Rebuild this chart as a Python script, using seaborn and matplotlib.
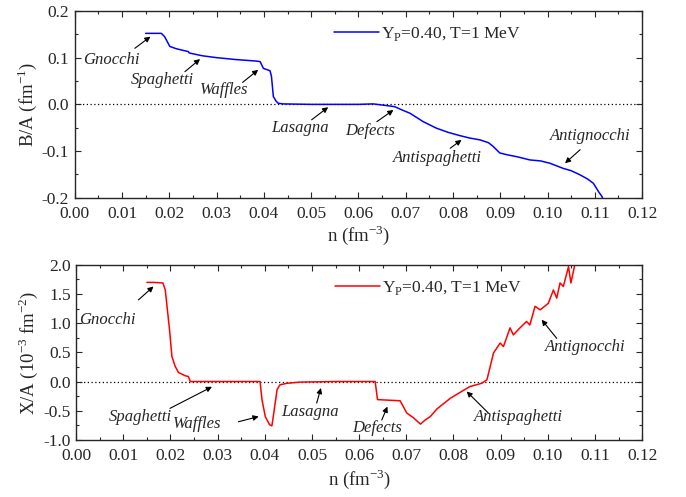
import numpy as np
import pandas as pd
import matplotlib
matplotlib.use("Agg")
import matplotlib.pyplot as plt
import seaborn as sns
from matplotlib.ticker import MultipleLocator

# B/A curve (top panel)
n_b = [0.0150, 0.0165, 0.0183, 0.0190, 0.0201, 0.0215, 0.0240, 0.0242, 0.0270, 0.0300, 0.0340,
       0.0380, 0.0392, 0.0399, 0.0413, 0.0416, 0.0420, 0.0425, 0.0430, 0.0440, 0.0500, 0.0600,
       0.0631, 0.0663, 0.0677, 0.0690, 0.0709, 0.0737, 0.0765, 0.0790, 0.0815, 0.0835, 0.0857,
       0.0875, 0.0885, 0.0899, 0.0915, 0.0935, 0.0963, 0.0985, 0.1005, 0.1033, 0.1050, 0.1069,
       0.1085, 0.1097, 0.1108, 0.1115, 0.1118]
b_a = [0.152, 0.152, 0.152, 0.145, 0.124, 0.119, 0.113, 0.110, 0.104, 0.100, 0.096,
       0.093, 0.0916, 0.077, 0.072, 0.060, 0.017, 0.008, 0.0025, 0.001, 0.000, 0.000,
       0.001, -0.003, -0.005, -0.011, -0.019, -0.037, -0.051, -0.060, -0.067, -0.072, -0.076,
       -0.082, -0.090, -0.104, -0.108, -0.112, -0.119, -0.121, -0.126, -0.137, -0.142, -0.151,
       -0.160, -0.169, -0.187, -0.197, -0.205]

# X/A curve (bottom panel), units of 1e-3 fm^-2
n_x = [0.0150, 0.0165, 0.0184, 0.0189, 0.0192, 0.0198, 0.0203, 0.0210, 0.0217, 0.0231, 0.0238,
       0.0242, 0.0300, 0.0390, 0.0394, 0.0401, 0.0410, 0.0415, 0.0418, 0.0426, 0.0432, 0.0447,
       0.0475, 0.0550, 0.0634, 0.0639, 0.0687, 0.0701, 0.0715, 0.0730, 0.0740, 0.0751, 0.0765,
       0.0793, 0.0811, 0.0835, 0.0860, 0.0871, 0.0885, 0.0899, 0.0906, 0.0920, 0.0927, 0.0941,
       0.0955, 0.0962, 0.0973, 0.0984, 0.1001, 0.1012, 0.1019, 0.1026, 0.1033, 0.1044, 0.1049,
       0.1058, 0.1065]
x_a = [1.70, 1.70, 1.69, 1.57, 1.34, 0.89, 0.43, 0.26, 0.155, 0.10, 0.086,
       0.0, 0.0, 0.0, -0.31, -0.60, -0.74, -0.76, -0.60, -0.14, -0.057, -0.03,
       -0.01, 0.0, 0.0, -0.31, -0.33, -0.54, -0.62, -0.73, -0.66, -0.60, -0.47,
       -0.29, -0.20, -0.086, -0.03, 0.03, 0.49, 0.66, 0.60, 0.92, 0.80, 0.92,
       1.03, 0.97, 1.29, 1.23, 1.34, 1.57, 1.43, 1.69, 1.63, 1.97, 1.69,
       2.03, 2.10]

phases = ["Gnocchi", "Spaghetti", "Waffles", "Lasagna", "Defects", "Antispaghetti", "Antignocchi"]
# text position, arrow tail, arrow head
top_text = [(0.0078, 0.095), (0.0186, 0.052), (0.0317, 0.031), (0.0476, -0.050),
            (0.0624, -0.057), (0.0766, -0.114), (0.1090, -0.067)]
top_tail = [(0.0127, 0.120), (0.0233, 0.070), (0.0355, 0.047), (0.0501, -0.033),
            (0.0639, -0.037), (0.0794, -0.094), (0.1069, -0.097)]
top_head = [(0.0160, 0.145), (0.0265, 0.097), (0.0388, 0.074), (0.0536, -0.006),
            (0.0674, -0.012), (0.0818, -0.076), (0.1037, -0.126)]
bot_text = [(0.0066, 1.06), (0.0136, -0.60), (0.0257, -0.73), (0.0496, -0.52),
            (0.0638, -0.79), (0.0937, -0.60), (0.1079, 0.59)]
bot_tail = [(0.0132, 1.40), (0.0199, -0.46), (0.0344, -0.69), (0.0510, -0.37),
            (0.0648, -0.66), (0.0874, -0.54), (0.1019, 0.74)]
bot_head = [(0.0164, 1.63), (0.0288, -0.09), (0.0387, -0.60), (0.0519, -0.11),
            (0.0660, -0.43), (0.0828, -0.17), (0.0987, 1.06)]

label = "Y$_\\mathregular{P}$=0.40, T=1 MeV"

sns.set_style("ticks")
plt.rcParams['font.family'] = ['Liberation Serif', 'DejaVu Serif']
plt.rcParams['mathtext.fontset'] = 'custom'
plt.rcParams['mathtext.rm'] = 'Liberation Serif'
plt.rcParams['font.size'] = 12.5

fig = plt.figure(figsize=(6.86, 4.97), dpi=100)
ax1 = fig.add_axes([0.109, 0.602, 0.827, 0.376])
ax2 = fig.add_axes([0.111, 0.115, 0.825, 0.352])

df_b = pd.DataFrame({"n": n_b, "v": b_a})
df_x = pd.DataFrame({"n": n_x, "v": x_a})

sns.lineplot(data=df_b, x="n", y="v", ax=ax1, color="blue", lw=1.1, label=label, sort=False)
sns.lineplot(data=df_x, x="n", y="v", ax=ax2, color="red", lw=1.1, label=label, sort=False)

for ax, txt, tail, head in [(ax1, top_text, top_tail, top_head), (ax2, bot_text, bot_tail, bot_head)]:
    ax.axhline(0, color="black", ls=(0, (1, 2)), lw=0.9, zorder=0)
    for name, t, s, h in zip(phases, txt, tail, head):
        ax.text(t[0], t[1], name, style="italic", ha="center", va="center", fontsize=12)
        ax.annotate("", xy=h, xytext=s,
                    arrowprops=dict(arrowstyle="-|>", color="black", lw=0.8,
                                    mutation_scale=8, shrinkA=0, shrinkB=0))
    ax.set_xlim(0, 0.12)
    ax.xaxis.set_minor_locator(MultipleLocator(0.005))
    ax.set_xticks(np.arange(0, 0.121, 0.01))
    ax.set_xticklabels(["%.2f" % v for v in np.arange(0, 0.121, 0.01)])
    ax.tick_params(which="both", direction="in", top=True, right=True, labelsize=12.5)
    ax.tick_params(axis="x", which="major", pad=6)
    ax.tick_params(axis="y", which="major", pad=4)
    ax.tick_params(which="major", length=4, width=0.8)
    ax.tick_params(which="minor", length=2, width=0.8)
    for sp in ax.spines.values():
        sp.set_linewidth(1.0)
    ax.legend(loc="upper left", bbox_to_anchor=(0.43, 1.01), frameon=False,
              handlelength=2.6, handletextpad=0.1, fontsize=12.5)

ax1.set_xlabel("n (fm$^{-3}$)", fontsize=13.5, labelpad=0.5)
ax2.set_xlabel("n (fm$^{-3}$)", fontsize=13.5, labelpad=2)

ax1.set_ylim(-0.2, 0.2)
ax1.yaxis.set_minor_locator(MultipleLocator(0.05))
ax1.set_yticks([-0.2, -0.1, 0.0, 0.1, 0.2])
ax1.set_yticklabels(["-0.2", "-0.1", "0.0", "0.1", "0.2"])
ax1.set_ylabel("B/A (fm$^{-1}$)", fontsize=13.5, labelpad=2)

ax2.set_ylim(-1.0, 2.0)
ax2.yaxis.set_minor_locator(MultipleLocator(0.25))
ax2.set_yticks([-1.0, -0.5, 0.0, 0.5, 1.0, 1.5, 2.0])
ax2.set_yticklabels(["-1.0", "-0.5", "0.0", "0.5", "1.0", "1.5", "2.0"])
ax2.set_ylabel("X/A (10$^{-3}$ fm$^{-2}$)", fontsize=13.5, labelpad=2)

fig.savefig("out.png", dpi=100)
